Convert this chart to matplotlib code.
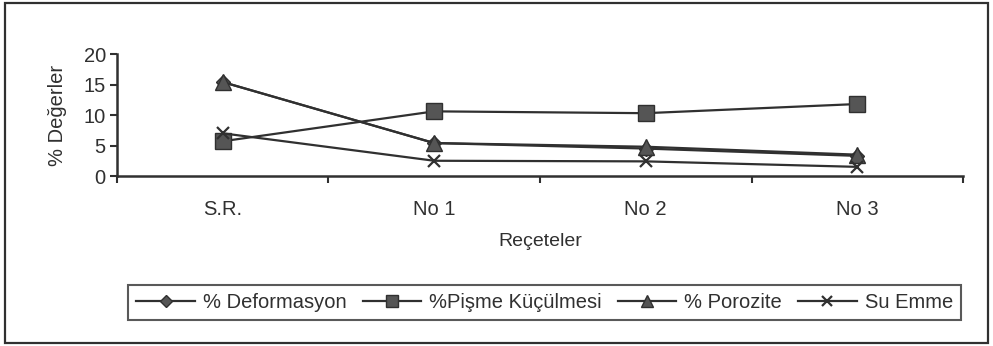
import matplotlib.pyplot as plt
from matplotlib.patches import Rectangle
from matplotlib.ticker import FixedLocator

plt.rcParams['font.family'] = ['Liberation Sans', 'DejaVu Sans']

receteler = ['S.R.', 'No 1', 'No 2', 'No 3']
deformasyon = [15.4, 5.4, 4.5, 3.3]
pisme_kuculmesi = [5.7, 10.6, 10.3, 11.8]
porozite = [15.4, 5.4, 4.8, 3.5]
su_emme = [7.0, 2.5, 2.4, 1.5]

ink = '#303030'
fill = '#555555'

fig = plt.figure(figsize=(9.93, 3.46), dpi=100)
ax = fig.add_axes([0.1178, 0.4913, 0.852, 0.3526])

x = range(len(receteler))
ax.plot(x, deformasyon, color=ink, lw=1.6, marker='D', ms=7,
        mfc=fill, mec=ink, label='% Deformasyon', zorder=3)
ax.plot(x, pisme_kuculmesi, color=ink, lw=1.6, marker='s', ms=11,
        mfc=fill, mec=ink, label='%Pişme Küçülmesi', zorder=4)
ax.plot(x, porozite, color=ink, lw=1.6, marker='^', ms=11,
        mfc=fill, mec=ink, label='% Porozite', zorder=4)
ax.plot(x, su_emme, color=ink, lw=1.6, marker='x', ms=9, mew=1.6,
        mec=ink, label='Su Emme', zorder=4)

ax.set_xlim(-0.5, len(receteler) - 0.5)
ax.set_ylim(0, 20)
ax.set_yticks([0, 5, 10, 15, 20])
ax.set_xticks(list(x))
ax.set_xticklabels(receteler)
ax.xaxis.set_minor_locator(FixedLocator([i - 0.5 for i in range(len(receteler) + 1)]))
ax.tick_params(axis='x', which='major', length=0, pad=17, labelsize=14.5, colors=ink)
ax.tick_params(axis='x', which='minor', length=5, width=1.5, color=ink)
ax.tick_params(axis='y', length=5, width=1.5, labelsize=14.5, colors=ink, pad=3)

for side in ['top', 'right']:
    ax.spines[side].set_visible(False)
for side in ['left', 'bottom']:
    ax.spines[side].set_linewidth(1.8)
    ax.spines[side].set_color(ink)

ax.set_ylabel('% Değerler', fontsize=14.5, color=ink, labelpad=12)
ax.set_xlabel('Reçeteler', fontsize=14, color=ink, labelpad=10)

leg = fig.legend(loc='center', bbox_to_anchor=(0.5485, 0.127), ncol=4,
                 fontsize=14.5, frameon=True, fancybox=False,
                 handlelength=2.9, handletextpad=0.4, columnspacing=0.8,
                 borderpad=0.4, labelcolor=ink, markerscale=0.85)
leg.get_frame().set_edgecolor(ink)
leg.get_frame().set_linewidth(1.5)

# outer chart border
fig.add_artist(Rectangle((5 / 993, 3 / 346), 983 / 993, 340 / 346,
                         transform=fig.transFigure, fill=False,
                         edgecolor=ink, lw=1.6))

fig.savefig('out.png', dpi=100)
